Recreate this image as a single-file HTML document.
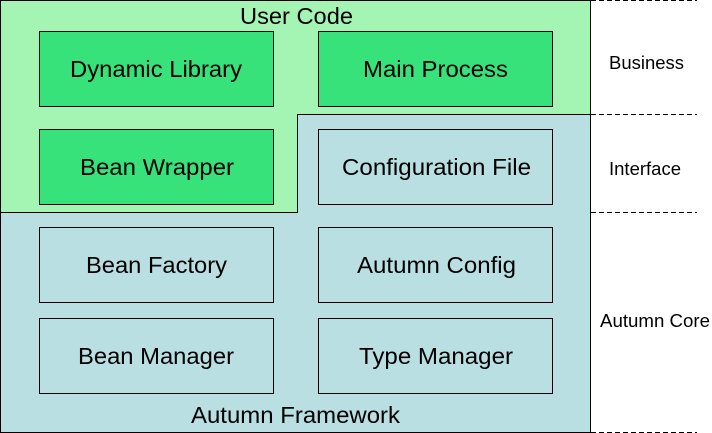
<!DOCTYPE html>
<html><head><style>body{margin:0;background:#fff}svg{display:block}text{font-family:"Liberation Sans",sans-serif;fill:#000}</style></head><body>
<svg width="712" height="433" viewBox="0 0 712 433" xmlns="http://www.w3.org/2000/svg">
<rect x="0.5" y="0.5" width="590" height="432" fill="#b9dfe2" stroke="#000"/>
<path d="M0.5 0.5 H590.5 V114.5 H297.5 V212.5 H0.5 Z" fill="#a4f4b4" stroke="#000"/>
<line x1="0" y1="0.5" x2="590" y2="0.5" stroke="#000"/>
<line x1="590.5" y1="0" x2="590.5" y2="433" stroke="#000"/>
<g stroke="#000" stroke-dasharray="5,3">
<line x1="591" y1="0.5" x2="697" y2="0.5"/>
<line x1="591" y1="114.5" x2="697" y2="114.5"/>
<line x1="591" y1="212.5" x2="697" y2="212.5"/>
<line x1="591" y1="432.5" x2="697" y2="432.5"/>
</g>
<g stroke="#000">
<rect x="39.5" y="31.5" width="234" height="75" fill="#38e27a"/>
<rect x="318.5" y="31.5" width="234" height="75" fill="#38e27a"/>
<rect x="39.5" y="129.5" width="234" height="75" fill="#38e27a"/>
<rect x="318.5" y="129.5" width="234" height="75" fill="#b9dfe2"/>
<rect x="39.5" y="227.5" width="234" height="75" fill="#b9dfe2"/>
<rect x="318.5" y="227.5" width="234" height="75" fill="#b9dfe2"/>
<rect x="39.5" y="318.5" width="234" height="75" fill="#b9dfe2"/>
<rect x="318.5" y="318.5" width="234" height="75" fill="#b9dfe2"/>
</g>
<g font-size="23" lengthAdjust="spacingAndGlyphs">
<text x="240" y="24" textLength="113" lengthAdjust="spacingAndGlyphs">User Code</text>
<text x="70" y="77" textLength="172" lengthAdjust="spacingAndGlyphs">Dynamic Library</text>
<text x="363" y="77" textLength="145" lengthAdjust="spacingAndGlyphs">Main Process</text>
<text x="80" y="175" textLength="154" lengthAdjust="spacingAndGlyphs">Bean Wrapper</text>
<text x="342" y="175" textLength="189" lengthAdjust="spacingAndGlyphs">Configuration File</text>
<text x="86" y="273" textLength="141" lengthAdjust="spacingAndGlyphs">Bean Factory</text>
<text x="357" y="273" textLength="159" lengthAdjust="spacingAndGlyphs">Autumn Config</text>
<text x="78" y="364" textLength="156" lengthAdjust="spacingAndGlyphs">Bean Manager</text>
<text x="359" y="364" textLength="154" lengthAdjust="spacingAndGlyphs">Type Manager</text>
<text x="191" y="423" textLength="209" lengthAdjust="spacingAndGlyphs">Autumn Framework</text>
</g>
<g font-size="18">
<text x="609" y="69" textLength="75" lengthAdjust="spacingAndGlyphs">Business</text>
<text x="609" y="175" textLength="72" lengthAdjust="spacingAndGlyphs">Interface</text>
<text x="600" y="327" textLength="110" lengthAdjust="spacingAndGlyphs">Autumn Core</text>
</g>
</svg>
</body></html>
